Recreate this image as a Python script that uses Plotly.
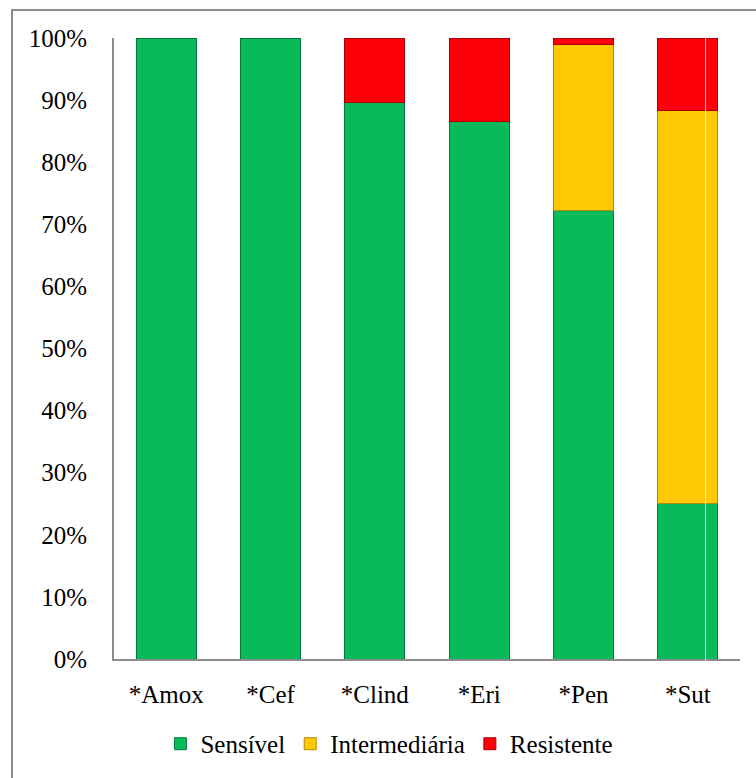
import plotly.graph_objects as go

categories = ["*Amox", "*Cef", "*Clind", "*Eri", "*Pen", "*Sut"]
sensivel = [100, 100, 89.6, 86.5, 72.2, 25.0]
intermediaria = [0, 0, 0, 0, 26.7, 63.3]
resistente = [0, 0, 10.4, 13.5, 1.1, 11.7]
y_ticks = [0, 10, 20, 30, 40, 50, 60, 70, 80, 90, 100]

series = [
    ("Sensível", sensivel, "#08BA5A", "#067a3c"),
    ("Intermediária", intermediaria, "#FFC905", "#b08a00"),
    ("Resistente", resistente, "#FF0008", "#a80005"),
]

font_family = "Liberation Serif, Times New Roman, serif"
fs = 25

fig = go.Figure()
for name, vals, col, edge in series:
    fig.add_trace(go.Bar(
        x=categories, y=[v if v else None for v in vals], name=name,
        marker=dict(color=col, line=dict(color=edge, width=1)),
    ))

fig.update_layout(
    barmode="stack",
    bargap=0.425,
    width=756, height=778,
    margin=dict(l=114, r=16, t=38, b=118),
    paper_bgcolor="white",
    plot_bgcolor="white",
    font=dict(family=font_family, size=fs, color="black"),
    showlegend=True,
    legend=dict(
        orientation="h", x=0.44, xanchor="center", y=-0.098, yanchor="top",
        font=dict(family=font_family, size=fs, color="black"),
        itemwidth=30, traceorder="normal",
    ),
    xaxis=dict(
        showline=True, linecolor="#8c8c8c", linewidth=2,
        ticks="outside", ticklen=12, tickcolor="rgba(0,0,0,0)",
        showgrid=False, zeroline=False,
        tickfont=dict(family=font_family, size=fs),
    ),
    yaxis=dict(
        range=[0, 100], tickvals=y_ticks,
        ticktext=[f"{v}%" for v in y_ticks],
        showline=True, linecolor="#8c8c8c", linewidth=2,
        ticks="outside", ticklen=20, tickcolor="rgba(0,0,0,0)",
        showgrid=False, zeroline=False,
        tickfont=dict(family=font_family, size=fs),
    ),
    shapes=[
        dict(type="rect", xref="paper", yref="paper",
             x0=(12 - 114) / 626, x1=(780 - 114) / 626,
             y0=(660 - 790) / 622, y1=(660 - 10) / 622,
             line=dict(color="#8c8c8c", width=2), fillcolor="rgba(0,0,0,0)",
             layer="above"),
        dict(type="line", xref="x", yref="paper",
             x0=5.17, x1=5.17, y0=-0.006, y1=1.0,
             line=dict(color="rgba(255,255,255,0.75)", width=1),
             layer="above"),
    ],
)

fig.write_html("out.html")
